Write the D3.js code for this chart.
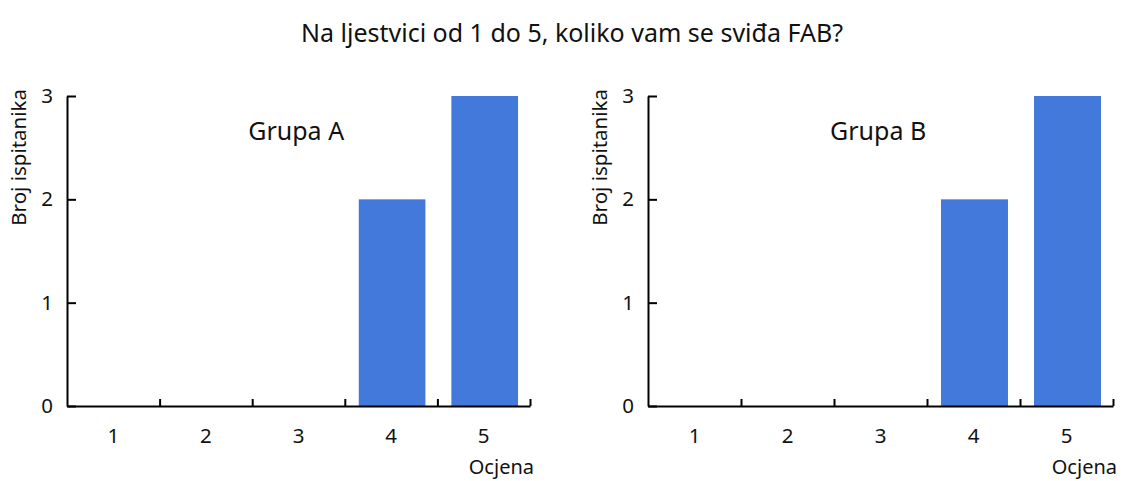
<!DOCTYPE html>
<html>
<head>
<meta charset="utf-8">
<script src="https://cdn.jsdelivr.net/npm/d3@7"></script>
<style>
  body { margin: 0; background: #fff; }
  text { font-family: "Noto Sans", sans-serif; fill: #111; }
</style>
</head>
<body>
<svg id="chart" width="1124" height="481"></svg>
<script>
// data
var titleText = "Na ljestvici od 1 do 5, koliko vam se sviđa FAB?";
var ratings = ["1", "2", "3", "4", "5"];
var groupNames = ["Grupa A", "Grupa B"];
var groupA = [0, 0, 0, 2, 3];
var groupB = [0, 0, 0, 2, 3];
var yTicks = [0, 1, 2, 3];
var yLabel = "Broj ispitanika";
var xLabel = "Ocjena";

var svg = d3.select("#chart");

svg.append("text")
    .attr("x", 572)
    .attr("y", 42)
    .attr("text-anchor", "middle")
    .style("font-size", "25px")
    .text(titleText);

// one panel per group
var panels = [
  {name: groupNames[0], values: groupA, left: 67, right: 530},
  {name: groupNames[1], values: groupB, left: 648, right: 1113}
];
var plotTop = 96, plotBottom = 406;

panels.forEach(function(p){
  var g = svg.append("g");

  var x = d3.scaleBand().domain(ratings).range([p.left, p.right]).paddingInner(0).paddingOuter(0);
  var xEdge = d3.scaleLinear().domain([0, ratings.length]).range([p.left, p.right]);
  var y = d3.scaleLinear().domain([0, 3]).range([plotBottom, plotTop]);

  // bars
  var w = x.bandwidth() * 0.72;
  g.selectAll("rect")
    .data(p.values)
    .enter().append("rect")
      .attr("x", function(d, i){ return x(ratings[i]) + (x.bandwidth() - w) / 2 + 1; })
      .attr("width", w)
      .attr("y", function(d){ return y(d); })
      .attr("height", function(d){ return plotBottom - y(d); })
      .attr("fill", "#4479dc");

  // x ticks at band edges, pointing up
  var xTickAxis = g.append("g")
      .attr("transform", "translate(0," + plotBottom + ")")
      .call(d3.axisTop(xEdge).tickValues([1, 2, 3, 4, 5]).tickSizeInner(7).tickSizeOuter(0).tickFormat(""));
  xTickAxis.selectAll("path, line").attr("stroke", "#000").attr("stroke-width", 2);

  // x labels at band centres
  var xLab = g.append("g")
      .attr("transform", "translate(0," + plotBottom + ")")
      .attr("font-size", 20.5)
      .call(d3.axisBottom(x).tickSize(0).tickPadding(22));
  xLab.select(".domain").remove();
  xLab.attr("font-size", 20.5).attr("font-family", "Noto Sans, sans-serif");
  xLab.selectAll("text").attr("fill", "#111");

  // y axis, ticks pointing inward
  var yAx = g.append("g")
      .attr("transform", "translate(" + p.left + ",0)")
      .call(d3.axisLeft(y).tickValues(yTicks).tickSizeInner(-9).tickSizeOuter(0).tickPadding(14).tickFormat(d3.format("d")));
  yAx.attr("font-size", 20.5).attr("font-family", "Noto Sans, sans-serif");
  yAx.selectAll("path, line").attr("stroke", "#000").attr("stroke-width", 2);
  yAx.selectAll("text").attr("fill", "#111");

  g.append("text")
      .attr("transform", "translate(" + (p.left - 41) + "," + 89 + ") rotate(-90)")
      .attr("text-anchor", "end")
      .style("font-size", "20.5px")
      .text(yLabel);

  g.append("text")
      .attr("x", p.right + 4)
      .attr("y", 474)
      .attr("text-anchor", "end")
      .style("font-size", "20px")
      .text(xLabel);

  g.append("text")
      .attr("x", p.left + (p.right - p.left) * 0.495)
      .attr("y", 140)
      .attr("text-anchor", "middle")
      .style("font-size", "25px")
      .text(p.name);
});
</script>
</body>
</html>
